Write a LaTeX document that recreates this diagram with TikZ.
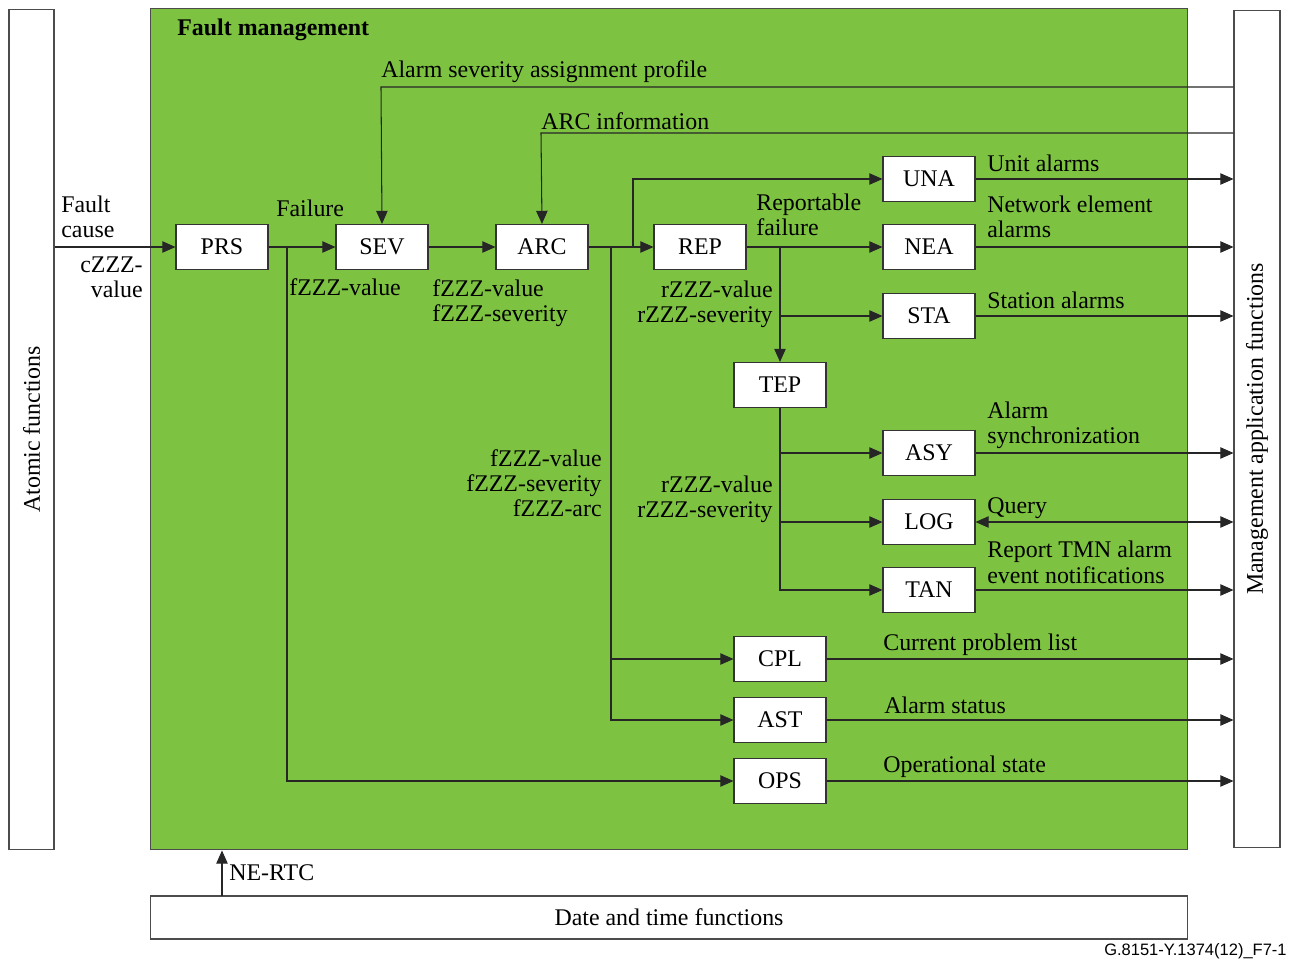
\documentclass[tikz,border=0pt]{standalone}
\usepackage{fontspec}
\setmainfont{Liberation Serif}
\newfontfamily\footfont{Liberation Sans}
\usetikzlibrary{arrows.meta}

\definecolor{fmgreen}{RGB}{125,195,65}
\newcommand{\fmfont}{\fontsize{13.6pt}{14.4pt}\selectfont}

\begin{document}
\begin{tikzpicture}[x=0.02cm, y=-0.02cm,
    every node/.style={font=\fmfont, inner sep=0pt},
    fbox/.style={draw=black!80, fill=white, line width=0.6pt, minimum width=1.84cm, minimum height=0.9cm},
    side/.style={draw=black!70, fill=white, line width=0.6pt, rotate=90},
    lbl/.style={anchor=base west, align=left},
    rlbl/.style={anchor=base east, align=right},
    line/.style={draw=black!85, line width=0.6pt},
    arr/.style={line, -{Triangle[length=7.5pt, width=6.5pt]}},
    darr/.style={line, {Triangle[length=7.5pt, width=6.5pt]}-{Triangle[length=7.5pt, width=6.5pt]}},
    ]
    \useasboundingbox (0,0) rectangle (1289,959);

    % surrounding blocks
    \node[side, minimum width=16.82cm, minimum height=0.9cm] (atomic) at (31.5,429.5) {Atomic functions};
    \node[side, minimum width=16.76cm, minimum height=0.92cm] (mgmt) at (1257,429) {Management application functions};
    \node[draw=black!70, fill=fmgreen, line width=0.6pt, minimum width=20.76cm, minimum height=16.84cm] (fm) at (669,429) {};
    \node[draw=black!70, fill=white, line width=0.6pt, minimum width=20.76cm, minimum height=0.86cm] (date) at (669,917.5) {Date and time functions};
    \node[anchor=base west, font=\fmfont\bfseries] (fmtitle) at (177,36) {Fault management};

    % branch points
    \coordinate (asp) at (381,87);
    \coordinate (arci) at (541,133);
    \coordinate (b1) at (287,247);
    \coordinate (b3) at (611,247);
    \coordinate (b2) at (633,247);
    \coordinate (b4) at (780,247);
    \coordinate (rtc) at (222,896);

    % function boxes
    \node[fbox] (PRS) at (222,247) {PRS};
    \node[fbox] (SEV) at (382,247) {SEV};
    \node[fbox] (ARC) at (542,247) {ARC};
    \node[fbox] (REP) at (700,247) {REP};
    \node[fbox] (UNA) at (929,179) {UNA};
    \node[fbox] (NEA) at (929,247) {NEA};
    \node[fbox] (STA) at (929,316) {STA};
    \node[fbox] (TEP) at (780,385) {TEP};
    \node[fbox] (ASY) at (929,453) {ASY};
    \node[fbox] (LOG) at (929,522) {LOG};
    \node[fbox] (TAN) at (929,590) {TAN};
    \node[fbox] (CPL) at (780,659) {CPL};
    \node[fbox] (AST) at (780,720) {AST};
    \node[fbox] (OPS) at (780,781) {OPS};

    % main chain
    \draw[arr] (PRS.west -| atomic.south) -- (PRS.west);
    \draw[arr] (PRS.east) -- (SEV.west);
    \draw[arr] (SEV.east) -- (ARC.west);
    \draw[arr] (ARC.east) -- (REP.west);
    \draw[arr] (REP.east) -- (NEA.west);
    \draw[arr] (asp -| mgmt.north) -- (asp) -- (SEV.north);
    \draw[arr] (arci -| mgmt.north) -- (arci) -- (ARC.north);

    % branches
    \draw[arr] (b1) |- (OPS.west);
    \draw[arr] (b2) |- (UNA.west);
    \draw[arr] (b3) |- (AST.west);
    \draw[arr] (b3 |- CPL.west) -- (CPL.west);
    \draw[arr] (b4) -- (TEP.north);
    \draw[arr] (b4 |- STA.west) -- (STA.west);
    \draw[arr] (TEP.south) |- (TAN.west);
    \draw[arr] (TEP.south |- ASY.west) -- (ASY.west);
    \draw[arr] (TEP.south |- LOG.west) -- (LOG.west);
    \draw[arr] (rtc) -- (rtc |- fm.south);

    % outputs
    \foreach \n in {UNA,NEA,STA,ASY,TAN,CPL,AST,OPS}
        \draw[arr] (\n.east) -- (\n.east -| mgmt.north);
    \draw[darr] (LOG.east) -- (LOG.east -| mgmt.north);

    % labels (multi-line ones sit on the baseline of their last line)
    \node[lbl] (tasp) at (381,78) {Alarm severity assignment profile};
    \node[lbl] (tarc) at (541,130) {ARC information};
    \node[lbl] (tcause) at (61,238) {Fault\\cause};
    \node[rlbl] (tczzz) at (143,298) {cZZZ-\\value};
    \node[lbl] (tfail) at (276,217) {Failure};
    \node[lbl] (tfval) at (289,296) {fZZZ-value};
    \node[lbl] (tfsev) at (432,322) {fZZZ-value\\fZZZ-severity};
    \node[lbl] (trep) at (756,236) {Reportable\\failure};
    \node[rlbl] (trsev) at (773,323) {rZZZ-value\\rZZZ-severity};
    \node[rlbl] (tfarc) at (602,517) {fZZZ-value\\fZZZ-severity\\fZZZ-arc};
    \node[rlbl] (trtep) at (773,518) {rZZZ-value\\rZZZ-severity};
    \node[lbl] (tuna) at (987,172) {Unit alarms};
    \node[lbl] (tnea) at (987,238) {Network element\\alarms};
    \node[lbl] (tsta) at (987,309) {Station alarms};
    \node[lbl] (tasy) at (987,444) {Alarm\\synchronization};
    \node[lbl] (tlog) at (987,514) {Query};
    \node[lbl] (ttan) at (987,583) {Report TMN alarm\\event notifications};
    \node[lbl] (tcpl) at (883,650) {Current problem list};
    \node[lbl] (tast) at (884,713) {Alarm status};
    \node[lbl] (tops) at (883,772) {Operational state};
    \node[lbl] (trtc) at (229,880) {NE-RTC};
    \node[anchor=base east, font=\footfont\fontsize{9.4pt}{11pt}\selectfont] (figid) at (1287,955) {G.8151-Y.1374(12)\_F7-1};
\end{tikzpicture}
\end{document}
